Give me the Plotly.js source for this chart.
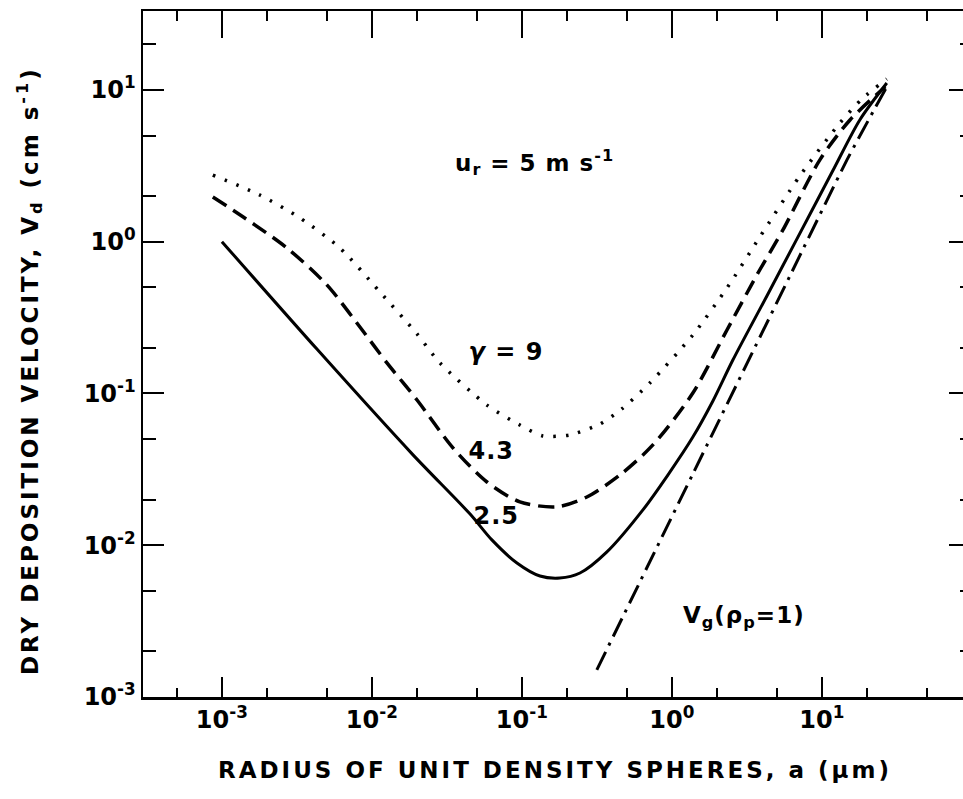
<!DOCTYPE html>
<html>
<head>
<meta charset="utf-8">
<script src="https://cdn.plot.ly/plotly-3.0.1.min.js"></script>
<style>
  html, body { margin: 0; padding: 0; background: #fff; overflow: hidden; }
  #chart { width: 968px; height: 799px; }
</style>
</head>
<body>
<div id="chart"></div>
<script>
// Particle radius a (µm) and dry deposition velocity Vd (cm/s), u_r = 5 m/s
const gamma25X = [0.001, 0.0043, 0.0188, 0.045, 0.0631, 0.0927, 0.132, 0.179, 0.244, 0.369, 0.641, 0.940, 1.38, 1.877, 2.55, 4.30, 6.81, 11.8, 17.9, 27.1];
const gamma25Y = [1.0, 0.196, 0.0394, 0.0161, 0.01084, 0.00764, 0.00627, 0.00608, 0.00656, 0.00904, 0.0171, 0.0290, 0.0516, 0.0892, 0.166, 0.439, 1.04, 2.92, 6.34, 11.1];

const gamma43X = [0.00087, 0.00138, 0.00271, 0.00501, 0.00832, 0.0126, 0.02, 0.0347, 0.0585, 0.097, 0.171, 0.271, 0.45, 0.747, 1.38, 2.33, 3.69, 5.50, 9.70, 15.4, 26.5];
const gamma43Y = [1.97, 1.46, 0.91, 0.519, 0.274, 0.159, 0.0906, 0.0438, 0.0261, 0.0193, 0.0179, 0.0208, 0.029, 0.0458, 0.1007, 0.262, 0.604, 1.195, 3.46, 6.34, 10.5];

const gamma9X = [0.00087, 0.00179, 0.00331, 0.00612, 0.0113, 0.02, 0.0284, 0.0585, 0.097, 0.138, 0.209, 0.331, 0.464, 0.713, 1.38, 2.33, 3.86, 7.13, 13.2, 18.8, 27.1];
const gamma9Y = [2.75, 2.03, 1.435, 0.91, 0.467, 0.2466, 0.159, 0.0839, 0.0619, 0.0525, 0.0533, 0.0629, 0.0791, 0.1172, 0.243, 0.4955, 1.075, 2.71, 6.06, 8.85, 11.8];

// Gravitational settling velocity, unit density
const settlingX = [0.316, 1.38, 6.12, 14.7, 21.9, 27.1];
const settlingY = [0.00151, 0.0295, 0.594, 3.46, 7.16, 10.5];

// Tick values and labels
const xTickVals = [0.001, 0.01, 0.1, 1, 10];
const xTickText = ['10<sup>-3</sup>', '10<sup>-2</sup>', '10<sup>-1</sup>', '10<sup>0</sup>', '10<sup>1</sup>'];
const xMinorVals = [0.0005, 0.002, 0.005, 0.02, 0.05, 0.2, 0.5, 2, 5, 20, 50];
const yTickVals = [0.001, 0.01, 0.1, 1, 10];
const yTickText = ['10<sup>-3</sup>', '10<sup>-2</sup>', '10<sup>-1</sup>', '10<sup>0</sup>', '10<sup>1</sup>'];
const yMinorVals = [0.002, 0.005, 0.02, 0.05, 0.2, 0.5, 2, 5, 20];

const xTitle = 'RADIUS OF UNIT DENSITY SPHERES, a (\u03bcm)';
const yTitle = 'DRY DEPOSITION VELOCITY, V<sub>d</sub> (cm s<sup>-1</sup>)';

const FONT = 'DejaVu Sans, Verdana, sans-serif';
const xRange = [-3.526, 1.961];
const yRange = [-3, 1.52];

const curve = (x, y, width, dash, smoothing) => ({
  x: x, y: y, type: 'scatter', mode: 'lines',
  line: { color: '#000', width: width, dash: dash, shape: 'spline', smoothing: smoothing },
  hoverinfo: 'skip', showlegend: false
});

const traces = [
  curve(gamma25X, gamma25Y, 3, 'solid', 0.8),
  curve(gamma43X, gamma43Y, 3.5, '16px,8px', 0.8),
  curve(gamma9X, gamma9Y, 3.5, '2.5px,10px', 0.7),
  curve(settlingX, settlingY, 3, '20px,7px,3px,7px', 0.4),
  // carries the top and right frame axes
  { x: [], y: [], xaxis: 'x2', yaxis: 'y2', type: 'scatter', mode: 'lines', showlegend: false, hoverinfo: 'skip' }
];

const baseAxis = {
  type: 'log', showgrid: false, zeroline: false,
  showline: true, linecolor: '#000', linewidth: 2.5,
  ticks: 'inside', tickcolor: '#000', tickwidth: 2,
  tickmode: 'array', automargin: false, fixedrange: true
};
const tickFont = { family: FONT, size: 24, weight: 'bold', color: '#000' };
const minorTicks = (vals, len) => ({ tickmode: 'array', tickvals: vals, ticklen: len, tickwidth: 2, tickcolor: '#000', ticks: 'inside', showgrid: false });
const label = (x, y, text, size) => ({
  x: Math.log10(x), y: Math.log10(y), xref: 'x', yref: 'y', showarrow: false,
  xanchor: 'center', yanchor: 'middle',
  text: text, font: { family: FONT, size: size, weight: 'bold', color: '#000' }
});

const layout = {
  width: 968, height: 799,
  margin: { l: 143, r: 2, t: 11, b: 102 },
  paper_bgcolor: '#fff', plot_bgcolor: '#fff',
  font: { family: FONT, color: '#000' },
  xaxis: Object.assign({}, baseAxis, {
    range: xRange, tickvals: xTickVals, ticktext: xTickText, ticklen: 20,
    tickfont: tickFont, minor: minorTicks(xMinorVals, 9)
  }),
  yaxis: Object.assign({}, baseAxis, {
    range: yRange, tickvals: yTickVals, ticktext: yTickText, ticklen: 21,
    tickfont: tickFont, minor: minorTicks(yMinorVals, 13)
  }),
  xaxis2: Object.assign({}, baseAxis, {
    overlaying: 'x', side: 'top', anchor: 'y', linewidth: 2,
    range: xRange, tickvals: xTickVals, ticklen: 27, showticklabels: false,
    minor: minorTicks(xMinorVals, 10)
  }),
  yaxis2: Object.assign({}, baseAxis, {
    overlaying: 'y', side: 'right', anchor: 'x', linewidth: 2,
    range: yRange, tickvals: yTickVals, ticklen: 17, showticklabels: false,
    minor: minorTicks(yMinorVals, 6)
  }),
  annotations: [
    // axis titles
    { x: 0.5, y: -(770 - 697) / 686, xref: 'paper', yref: 'paper', showarrow: false,
      xanchor: 'center', yanchor: 'middle', text: xTitle,
      font: { family: FONT, size: 23, weight: 'bold', color: '#000' } },
    { x: -(143 - 30) / 823, y: 1 - (371 - 11) / 686, xref: 'paper', yref: 'paper', showarrow: false,
      xanchor: 'center', yanchor: 'middle', textangle: -90, text: yTitle,
      font: { family: FONT, size: 23, weight: 'bold', color: '#000' } },
    // curve labels
    label(0.122, 3.35, 'u<sub>r</sub> = 5 m s<sup>-1</sup>', 23),
    label(0.0782, 0.1877, '<i>\u03b3</i> = 9', 24),
    label(0.0631, 0.0418, '4.3', 24),
    label(0.0681, 0.0156, '2.5', 24),
    label(3.02, 0.00336, 'V<sub>g</sub>(\u03c1<sub>p</sub>=1)', 23)
  ]
};

Plotly.newPlot('chart', traces, layout, { staticPlot: true, displayModeBar: false }).then(gd => {
  // widen the lettering of the titles and curve labels
  const spacing = ['3px', '3px', '1px', '1px', '1px', '1px', '1px'];
  gd.querySelectorAll('.annotation-text').forEach((el, i) => {
    if (spacing[i]) el.style.letterSpacing = spacing[i];
  });
});
</script>
</body>
</html>
